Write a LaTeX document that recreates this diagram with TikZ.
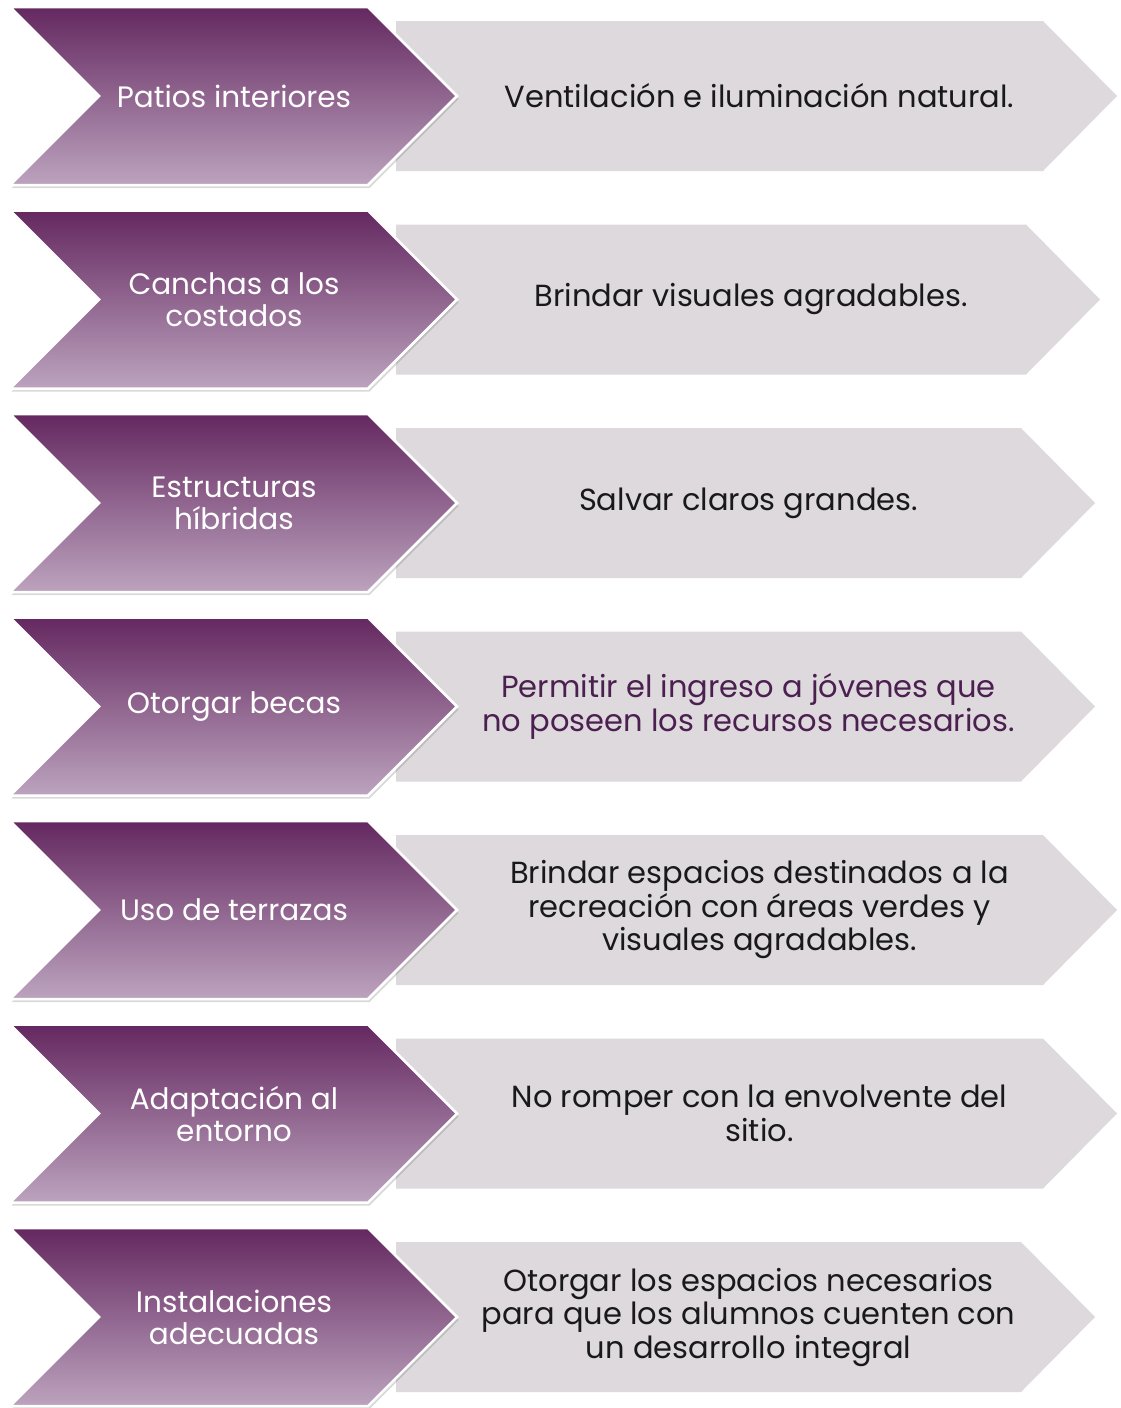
\documentclass[tikz,border=0pt]{standalone}
\usepackage{fontspec}
\setmainfont{Poppins}
\usetikzlibrary{shadows}
\definecolor{plumtop}{RGB}{100,40,96}
\definecolor{plumbottom}{RGB}{188,163,190}
\definecolor{greyfill}{RGB}{221,217,221}
\definecolor{plumtext}{RGB}{75,31,79}
\begin{document}
\begin{tikzpicture}[x=1pt,y=-1pt,
    chevron/.style={draw=white, line width=2.5pt, line join=miter,
      top color=plumtop, bottom color=plumbottom,
      drop shadow={shadow xshift=1.5pt, shadow yshift=-3pt, opacity=0.25, fill=black!60}},
    pentagon/.style={fill=greyfill},
    lefttext/.style={text=white, align=center,
      font=\fontsize{29.5}{32}\selectfont},
    righttext/.style={text=black!90, align=center,
      font=\fontsize{30.5}{33.5}\selectfont}]
  \useasboundingbox (0,0) rectangle (1120,1408);
  % grey boxes
  \path[pentagon] (396,21) -- (1043,21) -- (1117,96) -- (1043,171) -- (396,171) -- cycle;
  \path[pentagon] (396,224.5) -- (1026,224.5) -- (1100,299.5) -- (1026,374.5) -- (396,374.5) -- cycle;
  \path[pentagon] (396,428) -- (1021,428) -- (1095,503) -- (1021,578) -- (396,578) -- cycle;
  \path[pentagon] (396,631.5) -- (1021,631.5) -- (1095,706.5) -- (1021,781.5) -- (396,781.5) -- cycle;
  \path[pentagon] (396,835) -- (1043,835) -- (1117,910) -- (1043,985) -- (396,985) -- cycle;
  \path[pentagon] (396,1038.5) -- (1043,1038.5) -- (1117,1113.5) -- (1043,1188.5) -- (396,1188.5) -- cycle;
  \path[pentagon] (396,1242) -- (1021,1242) -- (1095,1317) -- (1021,1392) -- (396,1392) -- cycle;
  % purple chevrons
  \path[chevron] (10,7) -- (368,7) -- (457,96) -- (368,185) -- (10,185) -- (99,96) -- cycle;
  \path[chevron] (10,210.5) -- (368,210.5) -- (457,299.5) -- (368,388.5) -- (10,388.5) -- (99,299.5) -- cycle;
  \path[chevron] (10,414) -- (368,414) -- (457,503) -- (368,592) -- (10,592) -- (99,503) -- cycle;
  \path[chevron] (10,617.5) -- (368,617.5) -- (457,706.5) -- (368,795.5) -- (10,795.5) -- (99,706.5) -- cycle;
  \path[chevron] (10,821) -- (368,821) -- (457,910) -- (368,999) -- (10,999) -- (99,910) -- cycle;
  \path[chevron] (10,1024.5) -- (368,1024.5) -- (457,1113.5) -- (368,1202.5) -- (10,1202.5) -- (99,1113.5) -- cycle;
  \path[chevron] (10,1228) -- (368,1228) -- (457,1317) -- (368,1406) -- (10,1406) -- (99,1317) -- cycle;
  % labels
  \node[lefttext] (patios) at (234,96) {Patios interiores};
  \node[lefttext] (canchas) at (234,299.5) {Canchas a los\\costados};
  \node[lefttext] (estructuras) at (234,503) {Estructuras\\híbridas};
  \node[lefttext] (becas) at (234,706.5) {Otorgar becas};
  \node[lefttext] (terrazas) at (234,910) {Uso de terrazas};
  \node[lefttext] (entorno) at (234,1113.5) {Adaptación al\\entorno};
  \node[lefttext] (instalaciones) at (234,1317) {Instalaciones\\adecuadas};
  \node[righttext] (ventilacion) at (759.5,96) {Ventilación e iluminación natural.};
  \node[righttext] (visuales) at (751,299.5) {Brindar visuales agradables.};
  \node[righttext] (claros) at (748.5,503) {Salvar claros grandes.};
  \node[righttext, text=plumtext] (ingreso) at (748.5,706.5) {Permitir el ingreso a jóvenes que\\no poseen los recursos necesarios.};
  \node[righttext] (recreacion) at (759.5,910) {Brindar espacios destinados a la\\recreación con áreas verdes y\\visuales agradables.};
  \node[righttext] (envolvente) at (759.5,1113.5) {No romper con la envolvente del\\sitio.};
  \node[righttext] (desarrollo) at (748.5,1317) {Otorgar los espacios necesarios\\para que los alumnos cuenten con\\un desarrollo integral};
\end{tikzpicture}
\end{document}
